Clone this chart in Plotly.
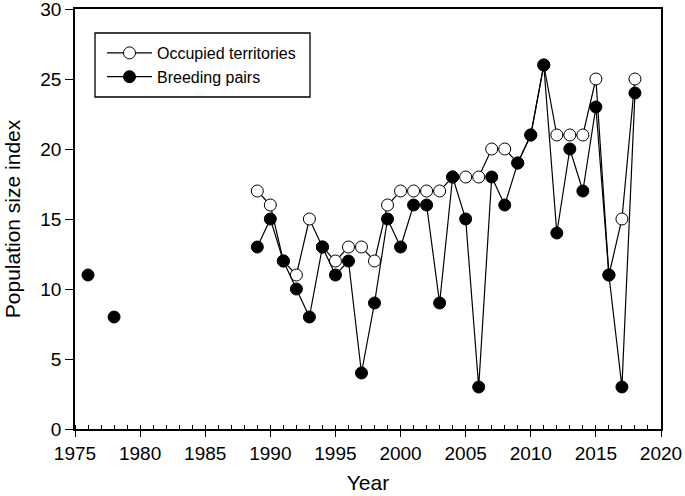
import plotly.graph_objects as go

years = list(range(1975, 2019))
occupied = {1989: 17, 1990: 16, 1991: 12, 1992: 11, 1993: 15, 1994: 13, 1995: 12,
            1996: 13, 1997: 13, 1998: 12, 1999: 16, 2000: 17, 2001: 17, 2002: 17,
            2003: 17, 2004: 18, 2005: 18, 2006: 18, 2007: 20, 2008: 20, 2009: 19,
            2010: 21, 2011: 26, 2012: 21, 2013: 21, 2014: 21, 2015: 25, 2016: 11,
            2017: 15, 2018: 25}
breeding = {1976: 11, 1978: 8, 1989: 13, 1990: 15, 1991: 12, 1992: 10, 1993: 8,
            1994: 13, 1995: 11, 1996: 12, 1997: 4, 1998: 9, 1999: 15, 2000: 13,
            2001: 16, 2002: 16, 2003: 9, 2004: 18, 2005: 15, 2006: 3, 2007: 18,
            2008: 16, 2009: 19, 2010: 21, 2011: 26, 2012: 14, 2013: 20, 2014: 17,
            2015: 23, 2016: 11, 2017: 3, 2018: 24}

occ_vals = [occupied.get(y) for y in years]
brd_vals = [breeding.get(y) for y in years]

FONT = "Liberation Sans, Arial, sans-serif"

fig = go.Figure()
fig.add_trace(go.Scatter(x=years, y=occ_vals, mode="lines+markers", name="Occupied territories",
                         connectgaps=False,
                         line=dict(color="black", width=1.2),
                         marker=dict(symbol="circle", size=12, color="white",
                                     line=dict(color="black", width=1))))
fig.add_trace(go.Scatter(x=years, y=brd_vals, mode="lines+markers", name="Breeding pairs",
                         connectgaps=False,
                         line=dict(color="black", width=1.2),
                         marker=dict(symbol="circle", size=12, color="black",
                                     line=dict(color="black", width=1))))

axis_common = dict(showline=True, linecolor="black", linewidth=1.6, mirror=True,
                   showgrid=False, zeroline=False, ticks="outside",
                   tickcolor="black", tickwidth=1.3, automargin=False,
                   ticklabeloverflow="allow",
                   tickfont=dict(family=FONT, size=19, color="black"))

fig.update_xaxes(range=[1975, 2020], dtick=5, tick0=1975, ticklen=6,
                 title=dict(text="Year", font=dict(family=FONT, size=21, color="black"), standoff=13),
                 minor=dict(dtick=1, ticks="inside", ticklen=4, tickcolor="black", tickwidth=1),
                 **axis_common)
fig.update_yaxes(range=[0, 30], dtick=5, ticklen=8,
                 title=dict(text="Population size index", font=dict(family=FONT, size=21, color="black"), standoff=14),
                 **axis_common)

# legend box (drawn as a shape so it matches the reference frame size)
L, R, T, B = 75, 661, 9, 429
def px_x(p):
    return (p - L) / (R - L)
def px_y(p):
    return (B - p) / (B - T)

fig.add_shape(type="rect", xref="paper", yref="paper",
              x0=px_x(95), x1=px_x(310), y0=px_y(97), y1=px_y(33),
              line=dict(color="black", width=1.3), fillcolor="rgba(0,0,0,0)", layer="above")

fig.update_layout(width=685, height=496, plot_bgcolor="white", paper_bgcolor="white",
                  margin=dict(l=L, r=685 - R, t=T, b=496 - B),
                  showlegend=True,
                  legend=dict(x=px_x(102), y=px_y(36), xanchor="left", yanchor="top",
                              borderwidth=0, bgcolor="rgba(255,255,255,0)",
                              font=dict(family=FONT, size=16, color="black"),
                              itemwidth=45, tracegroupgap=0))

fig.write_html("out.html", config={"displayModeBar": False},
               post_script="document.body.style.margin='0px';document.body.style.overflow='hidden';")
